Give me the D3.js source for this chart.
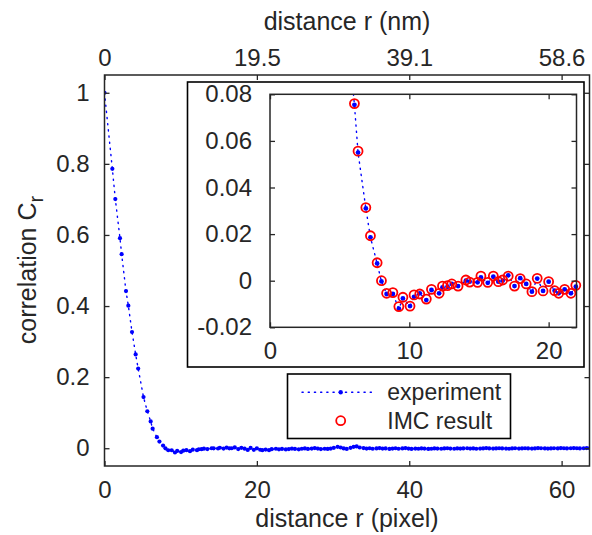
<!DOCTYPE html>
<html><head><meta charset="utf-8">
<script src="https://cdn.jsdelivr.net/npm/d3@7"></script>
<style>
body{margin:0;background:#fff}
svg{display:block}
text{font-family:"Liberation Sans",Arial,Helvetica,sans-serif;fill:#262626}
</style>
</head><body>
<svg id="c" width="592" height="535"></svg>
<script>
// ---- data ----
const expR = [0,1.03,1.42,2.03,2.25,2.82,3.13,3.61,4.09,4.42,5.12,5.62,6.06,6.32,6.88,7.21,7.69,8.0,8.37,8.82,9.25,9.54,10.05,10.34,10.75,11.22,11.59,12.14,12.38,12.74,13.05,13.5,14.06,14.33,14.9,15.14,15.63,16.03,16.39,16.7,17.1,17.55,17.96,18.39,18.8,19.18,19.6,20.0,20.43,20.72,21.15,21.6,21.95,
22.5,22.9,23.3,23.8,24.2,24.6,25.0,25.5,25.9,26.3,26.7,27.2,27.6,28.0,28.4,28.9,29.3,29.7,30.1,30.6,31.0,31.4,31.8,32.3,32.7,33.1,33.5,34.0,34.4,34.8,35.2,35.7,36.1,36.5,36.9,37.4,37.8,38.2,38.6,39.1,39.5,39.9,40.3,40.8,41.2,41.6,42.0,42.5,42.9,43.3,43.7,44.2,44.6,45.0,45.4,45.9,46.3,46.7,47.1,47.6,48.0,48.4,48.8,49.3,49.7,50.1,50.5,51.0,51.4,51.8,52.2,52.7,53.1,53.5,53.9,54.4,54.8,55.2,55.6,56.1,56.5,56.9,57.3,57.8,58.2,58.6,59.0,59.5,59.9,60.3,60.7,61.2,61.6,62.0,62.4,62.9,63.3,63.7,64.1];
const expV = [1.0,0.786,0.701,0.591,0.546,0.442,0.401,0.327,0.264,0.224,0.144,0.104,0.0755,0.0550,0.0310,0.0186,0.0074,-0.0003,-0.0057,-0.0057,-0.0120,-0.0076,-0.0109,-0.0069,-0.0054,-0.0083,-0.0040,-0.0054,-0.0029,-0.0026,-0.0014,-0.0023,0.0000,-0.0004,-0.0007,0.0014,-0.0009,0.0017,-0.0004,0.0000,0.0023,-0.0023,0.0011,-0.0014,-0.0047,0.0009,-0.0044,-0.0004,-0.0043,-0.0054,-0.0037,-0.0054,-0.0026,
-0.0015,-0.003,-0.002,-0.0035,-0.0025,-0.001,-0.002,-0.003,-0.0015,-0.0005,-0.002,-0.001,0.0005,-0.001,-0.0025,-0.0015,-0.002,-0.001,0.001,0.004,0.002,-0.0005,-0.002,0.001,0.004,0.005,0.002,0.0005,-0.001,0.0,-0.0015,-0.0005,0.0005,-0.001,-0.0005,-0.002,-0.001,0.0,-0.0015,-0.0005,0.0005,-0.001,-0.002,-0.001,-0.0015,-0.0005,-0.001,-0.002,-0.0015,-0.0005,-0.001,-0.0015,-0.0005,0.0,-0.001,-0.0015,-0.0005,-0.001,-0.0005,0.0,-0.001,-0.0005,-0.0015,-0.001,-0.0005,0.0005,-0.0005,-0.001,-0.0005,0.0,-0.0005,-0.001,-0.0015,-0.0005,0.0,-0.001,-0.0005,0.0,-0.0005,-0.001,-0.0005,0.0005,0.0,-0.0005,-0.001,-0.0005,0.0,-0.0005,0.0005,0.0,-0.0005,0.0,0.0005,0.0,-0.0005,0.0,0.0005,0.0,0.0];
const imcR = [6.06,6.32,6.88,7.21,7.69,8.0,8.37,8.82,9.25,9.54,10.05,10.34,10.75,11.22,11.59,12.14,12.38,12.74,13.05,13.5,14.06,14.33,14.9,15.14,15.63,16.03,16.39,16.7,17.1,17.55,17.96,18.39,18.8,19.18,19.6,20.0,20.43,20.72,21.15,21.6,21.95];
const imcV = [0.0760,0.0556,0.0314,0.0193,0.0077,0.0000,-0.0054,-0.0051,-0.0111,-0.0071,-0.0109,-0.0061,-0.0057,-0.0079,-0.0037,-0.0054,-0.0023,-0.0021,-0.0014,-0.0023,0.0003,-0.0006,-0.0007,0.0020,-0.0007,0.0020,-0.0004,0.0003,0.0020,-0.0023,0.0009,-0.0014,-0.0047,0.0010,-0.0044,-0.0004,-0.0043,-0.0054,-0.0037,-0.0054,-0.0020];
const mainXTicks = [0,20,40,60];
const mainYTicks = [0,0.2,0.4,0.6,0.8,1];
const topTickLabels = ["0","19.5","39.1","58.6"];
const insetXTicks = [0,10,20];
const insetYTicks = [-0.02,0,0.02,0.04,0.06,0.08];
const legendLabels = ["experiment","IMC result"];
const xLabel = "distance r (pixel)";
const topLabel = "distance r (nm)";

// ---- drawing ----
const svg = d3.select("#c");
const AX = "#262626", BLUE = "#0000ff", RED = "#ff0000";
const TICKFONT = 24, LABELFONT = 25, LEGFONT = 23;
const expData = expR.map((r,i)=>({r, v:expV[i]}));
const imcData = imcR.map((r,i)=>({r, v:imcV[i]}));

const M = {l:104.5, r:589.5, t:75, b:466};
const mx = d3.scaleLinear([0,63.66],[M.l,M.r]);
const my = d3.scaleLinear([-0.05,1.05],[M.b,M.t]);

const defs = svg.append("defs");
defs.append("clipPath").attr("id","mclip").append("rect")
  .attr("x",M.l).attr("y",M.t).attr("width",M.r-M.l).attr("height",M.b-M.t);

function styleAxis(g, fs){
  g.select(".domain").remove();
  g.selectAll(".tick line").attr("stroke",AX).attr("stroke-width",1.3);
  g.selectAll(".tick text").attr("fill",AX).style("font-size",fs+"px");
}

// main data
const mg = svg.append("g").attr("clip-path","url(#mclip)");
const line = d3.line().x(d=>mx(d.r)).y(d=>my(d.v));
mg.append("path").datum(expData).attr("d",line).attr("fill","none")
  .attr("stroke",BLUE).attr("stroke-width",1.4).attr("stroke-dasharray","1.2,5")
  .attr("stroke-linecap","round");
mg.selectAll("circle").data(expData).join("circle")
  .attr("cx",d=>mx(d.r)).attr("cy",d=>my(d.v)).attr("r",2.1).attr("fill",BLUE);

// main axes
svg.append("g").attr("transform",`translate(0,${M.b})`)
  .call(d3.axisBottom(mx).tickValues(mainXTicks).tickSize(-5).tickPadding(15).tickFormat(d3.format("d")))
  .call(g=>styleAxis(g,TICKFONT));
svg.append("g").attr("transform",`translate(${M.l},0)`)
  .call(d3.axisLeft(my).tickValues(mainYTicks).tickSize(-5).tickPadding(15).tickFormat(d=>String(d)))
  .call(g=>styleAxis(g,TICKFONT));
svg.append("g").attr("transform",`translate(${M.r},0)`)
  .call(d3.axisRight(my).tickValues(mainYTicks).tickSize(-5).tickFormat(""))
  .call(g=>styleAxis(g,TICKFONT));
svg.append("g").attr("transform",`translate(0,${M.t})`)
  .call(d3.axisTop(mx).tickValues(mainXTicks).tickSize(-5).tickPadding(9).tickFormat((d,i)=>topTickLabels[i]))
  .call(g=>styleAxis(g,TICKFONT));
svg.append("rect").attr("x",M.l).attr("y",M.t).attr("width",M.r-M.l).attr("height",M.b-M.t)
  .attr("fill","none").attr("stroke",AX).attr("stroke-width",1.5);

// labels
svg.append("text").attr("x",(M.l+M.r)/2).attr("y",527).attr("text-anchor","middle")
  .style("font-size",LABELFONT+"px").text(xLabel);
svg.append("text").attr("x",(M.l+M.r)/2).attr("y",30).attr("text-anchor","middle")
  .style("font-size",LABELFONT+"px").text(topLabel);
const yl = svg.append("text").attr("transform","translate(36,270) rotate(-90)")
  .attr("text-anchor","middle").style("font-size",LABELFONT+"px");
yl.append("tspan").text("correlation C");
yl.append("tspan").attr("dy","0.35em").style("font-size","20px").text("r");

// ---- inset ----
svg.append("rect").attr("x",187.5).attr("y",82).attr("width",396.5).attr("height",285)
  .attr("fill","#fff").attr("stroke","#000").attr("stroke-width",1.6);
const I = {l:270, r:576.5, t:94.3, b:327.3};
const ix = d3.scaleLinear([0,22],[I.l,I.r]);
const iy = d3.scaleLinear([-0.02,0.08],[I.b,I.t]);
defs.append("clipPath").attr("id","iclip").append("rect")
  .attr("x",I.l).attr("y",I.t).attr("width",I.r-I.l).attr("height",I.b-I.t);
const ilineClip = svg.append("g").attr("clip-path","url(#iclip)");
const iline = d3.line().x(d=>ix(d.r)).y(d=>iy(d.v));
ilineClip.append("path").datum(expData).attr("d",iline).attr("fill","none")
  .attr("stroke",BLUE).attr("stroke-width",1.4).attr("stroke-dasharray","1.2,5")
  .attr("stroke-linecap","round");
const inside = d=> d.r>=0 && d.r<=22 && d.v>=-0.02 && d.v<=0.08;
const ig = svg.append("g");
ig.selectAll("circle.e").data(expData.filter(inside)).join("circle").attr("class","e")
  .attr("cx",d=>ix(d.r)).attr("cy",d=>iy(d.v)).attr("r",2.4).attr("fill",BLUE);
ig.selectAll("circle.m").data(imcData.filter(inside)).join("circle").attr("class","m")
  .attr("cx",d=>ix(d.r)).attr("cy",d=>iy(d.v)).attr("r",4.5).attr("fill","none")
  .attr("stroke",RED).attr("stroke-width",1.8);

svg.append("g").attr("transform",`translate(0,${I.b})`)
  .call(d3.axisBottom(ix).tickValues(insetXTicks).tickSize(-5).tickPadding(15).tickFormat(d3.format("d")))
  .call(g=>styleAxis(g,TICKFONT));
svg.append("g").attr("transform",`translate(0,${I.t})`)
  .call(d3.axisTop(ix).tickValues(insetXTicks).tickSize(-5).tickFormat(""))
  .call(g=>styleAxis(g,TICKFONT));
svg.append("g").attr("transform",`translate(${I.l},0)`)
  .call(d3.axisLeft(iy).tickValues(insetYTicks).tickSize(-5).tickPadding(18).tickFormat(d=>String(d)))
  .call(g=>styleAxis(g,TICKFONT));
svg.append("g").attr("transform",`translate(${I.r},0)`)
  .call(d3.axisRight(iy).tickValues(insetYTicks).tickSize(-5).tickFormat(""))
  .call(g=>styleAxis(g,TICKFONT));
svg.append("rect").attr("x",I.l).attr("y",I.t).attr("width",I.r-I.l).attr("height",I.b-I.t)
  .attr("fill","none").attr("stroke",AX).attr("stroke-width",1.5);

// ---- legend ----
const L = svg.append("g");
L.append("rect").attr("x",287.5).attr("y",374).attr("width",223).attr("height",64.5)
  .attr("fill","#fff").attr("stroke","#000").attr("stroke-width",1.6);
L.append("line").attr("x1",302).attr("x2",373).attr("y1",392.3).attr("y2",392.3)
  .attr("stroke",BLUE).attr("stroke-width",1.4).attr("stroke-dasharray","1.2,5").attr("stroke-linecap","round");
L.append("circle").attr("cx",340.7).attr("cy",392.3).attr("r",2.2).attr("fill",BLUE);
L.append("circle").attr("cx",340.7).attr("cy",420.7).attr("r",4.5).attr("fill","none")
  .attr("stroke",RED).attr("stroke-width",1.8);
L.selectAll("text").data(legendLabels).join("text")
  .attr("x",387.3).attr("y",(d,i)=>392.3+i*28.4).attr("dy","0.35em")
  .style("font-size",LEGFONT+"px").text(d=>d);
</script>
</body></html>
